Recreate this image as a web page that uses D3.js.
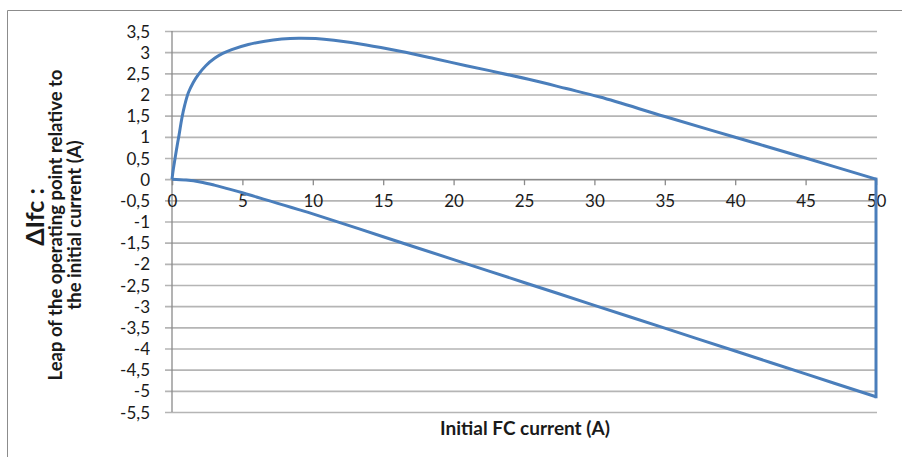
<!DOCTYPE html>
<html>
<head>
<meta charset="utf-8">
<script src="https://cdn.jsdelivr.net/npm/d3@7"></script>
<style>
  html, body { margin: 0; padding: 0; background: #fff; }
  svg { display: block; }
  text { font-family: Lato, "Open Sans", sans-serif; fill: #1a1a1a; }
</style>
</head>
<body>
<svg id="chart" width="902" height="457"></svg>
<script>
// ---- data ----
const xTicks = [0, 5, 10, 15, 20, 25, 30, 35, 40, 45, 50];
const yTicks = [3.5, 3, 2.5, 2, 1.5, 1, 0.5, 0, -0.5, -1, -1.5, -2, -2.5, -3, -3.5, -4, -4.5, -5, -5.5];

// upper branch: initial current (A) -> leap (A)
const upperX = [0, 0.1, 0.23, 0.36, 0.5, 0.7, 0.92, 1.16, 1.5, 1.87, 2.4, 3.05, 3.6, 4.24, 5.42, 6.6, 7.79, 9.0, 10.2, 11.5, 13.8, 16.2, 18.6, 20.9, 23.3, 25.7, 28.0, 30.4, 35, 40, 45, 50];
const upperY = [0, 0.25, 0.52, 0.78, 1.04, 1.44, 1.77, 2.04, 2.28, 2.47, 2.68, 2.86, 2.97, 3.06, 3.18, 3.26, 3.31, 3.33, 3.32, 3.28, 3.17, 3.02, 2.85, 2.68, 2.51, 2.33, 2.14, 1.94, 1.48, 0.99, 0.5, 0];

// lower branch
const lowerX = [0, 1, 2, 3, 4, 5, 6, 7, 8, 9, 10, 15, 20, 25, 30, 35, 40, 45, 50];
const lowerY = [0, -0.02, -0.065, -0.14, -0.23, -0.32, -0.42, -0.52, -0.62, -0.72, -0.82, -1.36, -1.9, -2.44, -2.98, -3.52, -4.06, -4.6, -5.14];

// closing segment at 50 A
const closeX = [50, 50];
const closeY = [-5.14, 0];

const xTitle = "Initial FC current (A)";
const yTitleMain = "ΔIfc :";
const yTitleLines = ["Leap of the operating point relative to", "the initial current (A)"];

// ---- drawing ----
const svg = d3.select("#chart");
const fmt = v => String(v).replace(".", ",");

const x = d3.scaleLinear().domain([0, 50]).range([172, 876]);
const y = d3.scaleLinear().domain([-5.5, 3.5]).range([412, 31]);

// outer frame (only left and top visible)
svg.append("path")
  .attr("d", "M7.5,457 L7.5,10.5 L902,10.5")
  .attr("fill", "none").attr("stroke", "#8c8c8c").attr("stroke-width", 1);

// horizontal gridlines + y axis tick labels
const yAxis = d3.axisLeft(y).tickValues(yTicks).tickSize(0).tickPadding(0).tickFormat(fmt);
const gy = svg.append("g").attr("transform", `translate(${x(0)},0)`).call(yAxis);
gy.select(".domain").remove();
gy.selectAll(".tick text")
  .attr("x", -22).attr("dy", "0.36em")
  .style("font-family", "Lato, sans-serif")
  .style("font-size", "17px").style("fill", "#1a1a1a");
gy.selectAll(".tick").append("line")
  .attr("x1", -7).attr("x2", x(50) + 1 - x(0))
  .attr("stroke", "#b5b5b5").attr("stroke-width", 1.6);

// y axis line
svg.append("line")
  .attr("x1", x(0)).attr("x2", x(0)).attr("y1", y(3.5)).attr("y2", y(-5.5))
  .attr("stroke", "#8a8a8a").attr("stroke-width", 1.3);

// x axis at y = 0
const xAxis = d3.axisBottom(x).tickValues(xTicks).tickSize(6).tickPadding(14).tickFormat(fmt);
const gx = svg.append("g").attr("transform", `translate(0,${y(0)})`).call(xAxis);
gx.select(".domain").attr("stroke", "#8a8a8a").attr("stroke-width", 1.3);
gx.selectAll(".tick line").attr("stroke", "#8a8a8a").attr("stroke-width", 1.3);
gx.selectAll(".tick text").attr("y", 22).attr("dy", "0.36em")
  .style("font-family", "Lato, sans-serif")
  .style("font-size", "17px").style("fill", "#1a1a1a");

// curves
const lineSmooth = d3.line().x(d => x(d[0])).y(d => y(d[1])).curve(d3.curveCatmullRom.alpha(0.5));
const lineStraight = d3.line().x(d => x(d[0])).y(d => y(d[1]));
const blue = "#4a7ebb";

const upper = d3.zip(upperX, upperY);
const lower = d3.zip(lowerX, lowerY);
const closing = d3.zip(closeX, closeY);

svg.append("path").datum(lower).attr("d", lineSmooth)
  .attr("fill", "none").attr("stroke", blue).attr("stroke-width", 3).attr("stroke-linejoin", "round");
svg.append("path").datum(closing).attr("d", lineStraight)
  .attr("fill", "none").attr("stroke", blue).attr("stroke-width", 3).attr("stroke-linecap", "square");
svg.append("path").datum(upper).attr("d", lineSmooth)
  .attr("fill", "none").attr("stroke", blue).attr("stroke-width", 3).attr("stroke-linejoin", "round");

// x axis title
svg.append("text")
  .attr("x", 525).attr("y", 435)
  .attr("text-anchor", "middle")
  .style("font-size", "19px").style("font-weight", "700")
  .text(xTitle);

// y axis titles (rotated)
svg.append("text")
  .attr("transform", "translate(44,217) rotate(-90)")
  .attr("text-anchor", "middle")
  .style("font-size", "25px").style("font-weight", "700")
  .text(yTitleMain);
yTitleLines.forEach((t, i) => {
  svg.append("text")
    .attr("transform", `translate(${62 + i * 19},225) rotate(-90)`)
    .attr("text-anchor", "middle")
    .style("font-size", "18.5px").style("font-weight", "700")
    .text(t);
});
</script>
</body>
</html>
